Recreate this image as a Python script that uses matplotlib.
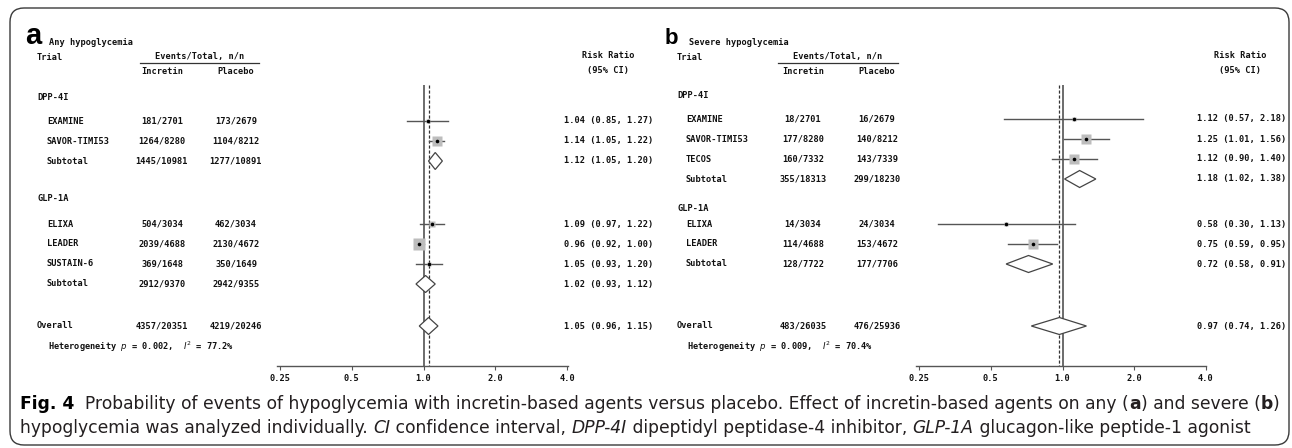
import warnings
warnings.filterwarnings("ignore")
import matplotlib
matplotlib.use("Agg")
import matplotlib.pyplot as plt
from matplotlib import font_manager
from matplotlib.ft2font import FT2Font
from matplotlib.patches import FancyBboxPatch, Polygon
from matplotlib.transforms import IdentityTransform
from matplotlib.ticker import FixedLocator, NullLocator

# ---------------- data ----------------
a_title = "Any hypoglycemia"
a_labels = ["DPP-4I", "EXAMINE", "SAVOR-TIMI53", "Subtotal", "GLP-1A", "ELIXA", "LEADER",
            "SUSTAIN-6", "Subtotal", "Overall"]
a_kind = ["group", "study", "study", "sub", "group", "study", "study", "study", "sub", "overall"]
a_incretin = ["", "181/2701", "1264/8280", "1445/10981", "", "504/3034", "2039/4688",
              "369/1648", "2912/9370", "4357/20351"]
a_placebo = ["", "173/2679", "1104/8212", "1277/10891", "", "462/3034", "2130/4672",
             "350/1649", "2942/9355", "4219/20246"]
a_rr = [None, 1.04, 1.14, 1.12, None, 1.09, 0.96, 1.05, 1.02, 1.05]
a_lo = [None, 0.85, 1.05, 1.05, None, 0.97, 0.92, 0.93, 0.93, 0.96]
a_hi = [None, 1.27, 1.22, 1.20, None, 1.22, 1.00, 1.20, 1.12, 1.15]
a_weight = [0, 3, 30, 0, 0, 6, 40, 4, 0, 0]
a_het = ("0.002", "77.2")

b_title = "Severe hypoglycemia"
b_labels = ["DPP-4I", "EXAMINE", "SAVOR-TIMI53", "TECOS", "Subtotal", "GLP-1A", "ELIXA",
            "LEADER", "Subtotal", "Overall"]
b_kind = ["group", "study", "study", "study", "sub", "group", "study", "study", "sub", "overall"]
b_incretin = ["", "18/2701", "177/8280", "160/7332", "355/18313", "", "14/3034", "114/4688",
              "128/7722", "483/26035"]
b_placebo = ["", "16/2679", "140/8212", "143/7339", "299/18230", "", "24/3034", "153/4672",
             "177/7706", "476/25936"]
b_rr = [None, 1.12, 1.25, 1.12, 1.18, None, 0.58, 0.75, 0.72, 0.97]
b_lo = [None, 0.57, 1.01, 0.90, 1.02, None, 0.30, 0.59, 0.58, 0.74]
b_hi = [None, 2.18, 1.56, 1.40, 1.38, None, 1.13, 0.95, 0.91, 1.26]
b_weight = [0, 3, 28, 28, 0, 0, 4, 30, 0, 0]
b_het = ("0.009", "70.4")

tick_values = [0.25, 0.5, 1.0, 2.0, 4.0]
tick_labels = ["0.25", "0.5", "1.0", "2.0", "4.0"]

# ---------------- layout ----------------
W, H = 1292, 448
fig = plt.figure(figsize=(W / 100, H / 100), dpi=100)
fig.patch.set_facecolor("white")

MONO = "DejaVu Sans Mono"
FS = 6.2
TXT = dict(family=MONO, fontsize=FS, fontweight="bold", color="#111111")


def fx(x):
    return x / W


def fy(y):
    return 1 - y / H


panels = [
    dict(letter="a", title=a_title, labels=a_labels, kind=a_kind, inc=a_incretin, pla=a_placebo,
         rr=a_rr, lo=a_lo, hi=a_hi, w=a_weight, het=a_het, letter_fs=21, title_x=49,
         rows_y=[98, 121, 141, 161, 198, 224, 244, 264, 284, 326],
         x0=25, trial_x=37, study_x=47, inc_c=162, pla_c=236, ul=(140, 259),
         ax_l=277, ax_r=568, rr_x=564, rr_hc=608),
    dict(letter="b", title=b_title, labels=b_labels, kind=b_kind, inc=b_incretin, pla=b_placebo,
         rr=b_rr, lo=b_lo, hi=b_hi, w=b_weight, het=b_het, letter_fs=16, title_x=689,
         rows_y=[96, 119, 139, 159, 179, 208, 224, 244, 264, 326],
         x0=665, trial_x=677, study_x=686, inc_c=803, pla_c=877, ul=(778, 898),
         ax_l=916, ax_r=1206, rr_x=1197, rr_hc=1240),
]

AX_BOTTOM = 366
AX_TOP = 40
PX_PER_DOUBLING = 71.75

for p in panels:
    # header
    fig.text(fx(p["x0"]), fy(44), p["letter"], family="Liberation Sans", fontsize=p["letter_fs"],
             fontweight="bold", va="baseline", ha="left")
    fig.text(fx(p["title_x"]), fy(45), p["title"], va="baseline", ha="left", **TXT)
    fig.text(fx(p["trial_x"]), fy(57), "Trial", va="center", ha="left", **TXT)
    fig.text(fx((p["ul"][0] + p["ul"][1]) / 2), fy(57), "Events/Total, n/n", va="center",
             ha="center", **TXT)
    fig.add_artist(plt.Line2D([fx(p["ul"][0]), fx(p["ul"][1])], [fy(63.5), fy(63.5)],
                              color="#333333", lw=0.9))
    fig.text(fx(p["inc_c"]), fy(72), "Incretin", va="center", ha="center", **TXT)
    fig.text(fx(p["pla_c"]), fy(72), "Placebo", va="center", ha="center", **TXT)
    fig.text(fx(p["rr_hc"]), fy(55), "Risk Ratio", va="center", ha="center", **TXT)
    fig.text(fx(p["rr_hc"]), fy(71), "(95% CI)", va="center", ha="center", **TXT)

    # forest axes (data y = pixel row)
    ax = fig.add_axes([fx(p["ax_l"]), fy(AX_BOTTOM), (p["ax_r"] - p["ax_l"]) / W,
                       (AX_BOTTOM - AX_TOP) / H])
    ax.set_facecolor("none")
    ax.set_xscale("log", base=2)
    lo_lim = 0.25 * 2 ** (-3 / PX_PER_DOUBLING)
    hi_lim = lo_lim * 2 ** ((p["ax_r"] - p["ax_l"]) / PX_PER_DOUBLING)
    ax.set_xlim(lo_lim, hi_lim)
    ax.set_ylim(AX_BOTTOM, AX_TOP)
    for s in ["top", "left", "right"]:
        ax.spines[s].set_visible(False)
    ax.spines["bottom"].set_color("#555555")
    ax.spines["bottom"].set_linewidth(1.0)
    ax.xaxis.set_major_locator(FixedLocator(tick_values))
    ax.xaxis.set_minor_locator(NullLocator())
    ax.set_xticklabels(tick_labels)
    ax.tick_params(axis="x", length=3, width=0.8, color="#555555", pad=3)
    for lab in ax.get_xticklabels():
        lab.set_family(MONO)
        lab.set_fontsize(FS)
        lab.set_fontweight("bold")
        lab.set_color("#111111")
    ax.set_yticks([])

    overall_rr = p["rr"][-1]
    ax.vlines(1.0, 85, AX_BOTTOM, color="#444444", lw=1.1, zorder=1)
    ax.vlines(overall_rr, 85, AX_BOTTOM, color="#333333", lw=0.9, linestyles=(0, (2.5, 1.5)),
              zorder=1)

    for i, lab in enumerate(p["labels"]):
        y = p["rows_y"][i]
        kind = p["kind"][i]
        lx = p["trial_x"] if kind in ("group", "overall") else p["study_x"]
        fig.text(fx(lx), fy(y), lab, va="center", ha="left", **TXT)
        if p["inc"][i]:
            fig.text(fx(p["inc_c"]), fy(y), p["inc"][i], va="center", ha="center", **TXT)
            fig.text(fx(p["pla_c"]), fy(y), p["pla"][i], va="center", ha="center", **TXT)
        if p["rr"][i] is None:
            continue
        rr, lo, hi = p["rr"][i], p["lo"][i], p["hi"][i]
        fig.text(fx(p["rr_x"]), fy(y), f"{rr:.2f} ({lo:.2f}, {hi:.2f})",
                 va="center", ha="left", **TXT)
        if kind == "study":
            ax.plot([lo, hi], [y, y], color="#555555", lw=1.0, zorder=2)
            wsz = p["w"][i]
            if wsz > 0:
                ax.plot([rr], [y], marker="s", ms=1.2 * wsz ** 0.5 + 1, color="#bdbdbd",
                        mec="none", zorder=3)
            ax.plot([rr], [y], marker="o", ms=2.6, color="black", mec="none", zorder=4)
        else:
            hh = 8.5
            poly = Polygon([(lo, y), (rr, y - hh), (hi, y), (rr, y + hh)], closed=True,
                           facecolor="white", edgecolor="#444444", lw=0.9, zorder=3)
            ax.add_patch(poly)

    # heterogeneity
    hx = p["study_x"] + 1
    fig.text(fx(hx), fy(347),
             f"Heterogeneity $\\it{{p}}$ = {p['het'][0]},  $\\it{{I}}^2$ = {p['het'][1]}%",
             va="center", ha="left", **TXT)

# ---------------- caption ----------------
line1 = [("Fig. 4", "bold", "normal", "black"),
         ("  Probability of events of hypoglycemia with incretin-based agents versus placebo. "
          "Effect of incretin-based agents on any (", "normal", "normal", "#231f20"),
         ("a", "bold", "normal", "#231f20"),
         (") and severe (", "normal", "normal", "#231f20"),
         ("b", "bold", "normal", "#231f20"),
         (")", "normal", "normal", "#231f20")]
line2 = [("hypoglycemia was analyzed individually. ", "normal", "normal", "#231f20"),
         ("CI", "normal", "italic", "#231f20"),
         (" confidence interval, ", "normal", "normal", "#231f20"),
         ("DPP-4I", "normal", "italic", "#231f20"),
         (" dipeptidyl peptidase-4 inhibitor, ", "normal", "normal", "#231f20"),
         ("GLP-1A", "normal", "italic", "#231f20"),
         (" glucagon-like peptide-1 agonist", "normal", "normal", "#231f20")]

renderer = fig.canvas.get_renderer()
CAP_CFG = {"family": "Liberation Sans", "stretch": "normal", "w": 400}


def draw_line(segs, x_start, y_base, fs, cfg):
    x = x_start
    arts = []
    for txt, wt, st, col in segs:
        weight = cfg["w"] if wt == "normal" else "bold"
        t = fig.text(fx(x), fy(y_base), txt, family=cfg["family"], stretch=cfg["stretch"],
                     fontsize=fs, fontweight=weight, fontstyle=st, color=col,
                     va="baseline", ha="left")
        bb = t.get_window_extent(renderer=renderer)
        x += bb.width
        arts.append(t)
    return x, arts


def measure_plain(text, fs, cfg):
    t = fig.text(0, -1, text, family=cfg["family"], stretch=cfg["stretch"], fontsize=fs,
                 fontweight=cfg["w"])
    w = t.get_window_extent(renderer=renderer).width
    t.remove()
    return w


def wnum(w):
    if isinstance(w, (int, float)):
        return int(w)
    return font_manager.weight_dict.get(str(w), 400)


bases = ["Liberation Sans", "Noto Sans", "Roboto", "Open Sans", "Lato", "Inter", "DejaVu Sans"]
suffixes = {"", "Condensed", "SemiCondensed", "Semi Condensed", "Narrow", "Cond", "SemiCond",
            "ExtraCondensed", "Medium"}
plain1 = "".join(s[0] for s in line1)
target = 1268 - 20
CAP_PX = 12.0
seen = set()
best = None
for e in font_manager.fontManager.ttflist:
    nm = e.name
    ok = False
    for b in bases:
        if nm == b or (nm.startswith(b + " ") and nm[len(b) + 1:] in suffixes):
            ok = True
            break
    if not ok or e.style != "normal" or wnum(e.weight) != 400:
        continue
    key = (nm, str(e.stretch))
    if key in seen:
        continue
    seen.add(key)
    try:
        f = FT2Font(e.fname)
        os2 = f.get_sfnt_table("OS/2")
        capr = (os2.get("sCapHeight", 0) / f.units_per_EM) if os2 else 0
        if not capr:
            capr = 0.70
    except Exception:
        capr = 0.70
    cfg = {"family": nm, "stretch": e.stretch, "w": 400}
    try:
        wid = measure_plain(plain1, 12.0, cfg)
    except Exception:
        continue
    fs_fit = 12.0 * target / wid
    cap_px = capr * fs_fit * 100 / 72
    sc = abs(cap_px - CAP_PX)
    if best is None or sc < best[0]:
        best = (sc, cfg)

if best is not None:
    CAP_CFG = best[1]
w_seg, arts = draw_line(line1, 0, -100, 12.0, CAP_CFG)
for a_ in arts:
    a_.remove()
cap_fs = 12.0 * target / w_seg

draw_line(line1, 20, 409, cap_fs, CAP_CFG)
draw_line(line2, 20, 433, cap_fs, CAP_CFG)

# ---------------- rounded frame ----------------
frame = FancyBboxPatch((10, 3), 1279, 437, boxstyle="round,pad=0,rounding_size=14",
                       transform=IdentityTransform(), facecolor="none", edgecolor="#3a3a3a",
                       lw=1.0)
fig.add_artist(frame)

fig.savefig("out.png", dpi=100)
